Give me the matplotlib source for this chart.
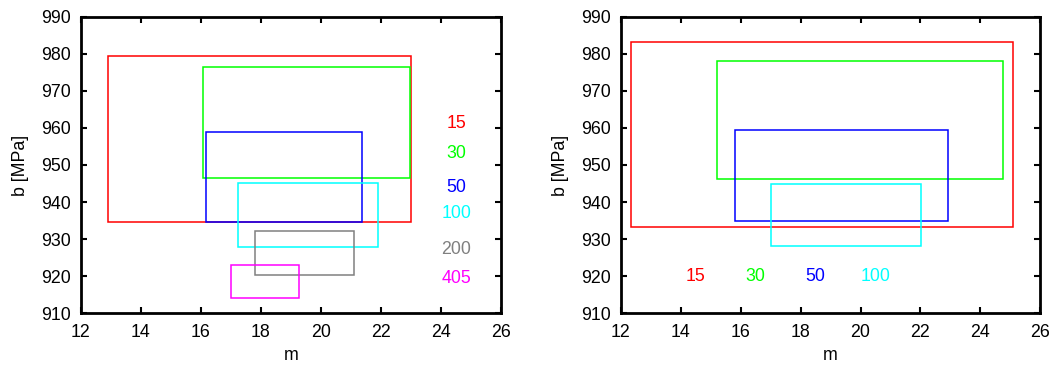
import matplotlib
matplotlib.use("Agg")
import matplotlib.pyplot as plt
from matplotlib.patches import Rectangle

plt.rcParams['font.family'] = ['Liberation Sans', 'DejaVu Sans']

# rectangles: (m_min, m_max, b_min, b_max)
left_labels = ['15', '30', '50', '100', '200', '405']
left_colors = ['#ff0000', '#00ff00', '#0000ff', '#00ffff', '#808080', '#ff00ff']
left_m_min = [12.9, 16.06, 16.17, 17.23, 17.8, 17.02]
left_m_max = [23.01, 22.96, 21.36, 21.89, 21.09, 19.27]
left_b_min = [934.6, 946.5, 934.7, 927.9, 920.2, 914.0]
left_b_max = [979.4, 976.4, 959.0, 945.1, 932.1, 923.0]
left_text_x = [24.5] * 6
left_text_y = [961.1, 953.0, 944.0, 936.8, 927.3, 919.3]

right_labels = ['15', '30', '50', '100']
right_colors = ['#ff0000', '#00ff00', '#0000ff', '#00ffff']
right_m_min = [12.33, 15.2, 15.81, 17.0]
right_m_max = [25.09, 24.74, 22.92, 22.02]
right_b_min = [933.4, 946.2, 934.8, 928.2]
right_b_max = [983.2, 978.0, 959.3, 944.9]
right_text_x = [14.5, 16.5, 18.5, 20.5]
right_text_y = [920] * 4

xticks = [12, 14, 16, 18, 20, 22, 24, 26]
yticks = [910, 920, 930, 940, 950, 960, 970, 980, 990]

fs = 12.8

fig = plt.figure(figsize=(10.51, 3.65), dpi=100)
ax1 = fig.add_axes([0.0768, 0.1416, 0.400, 0.8128])
ax2 = fig.add_axes([0.5906, 0.1416, 0.3993, 0.8128])


def draw(ax, labels, colors, mmin, mmax, bmin, bmax, tx, ty):
    for lab, c, x0, x1, y0, y1, px, py in zip(labels, colors, mmin, mmax, bmin, bmax, tx, ty):
        ax.add_patch(Rectangle((x0, y0), x1 - x0, y1 - y0, fill=False,
                               edgecolor=c, linewidth=1.1))
        ax.text(px, py, lab, color=c, fontsize=fs, ha='center', va='center')
    ax.set_xlim(12, 26)
    ax.set_ylim(910, 990)
    ax.set_xticks(xticks)
    ax.set_yticks(yticks)
    ax.tick_params(direction='in', top=True, right=True, length=4, width=1.5,
                   labelsize=fs)
    ax.tick_params(axis='x', pad=8)
    ax.tick_params(axis='y', pad=7)
    for s in ax.spines.values():
        s.set_linewidth(2)
    ax.set_xlabel('m', fontsize=fs, labelpad=4)
    ax.set_ylabel('b [MPa]', fontsize=fs, labelpad=9)


draw(ax1, left_labels, left_colors, left_m_min, left_m_max, left_b_min, left_b_max,
     left_text_x, left_text_y)
draw(ax2, right_labels, right_colors, right_m_min, right_m_max, right_b_min, right_b_max,
     right_text_x, right_text_y)

fig.savefig('out.png', dpi=100)
